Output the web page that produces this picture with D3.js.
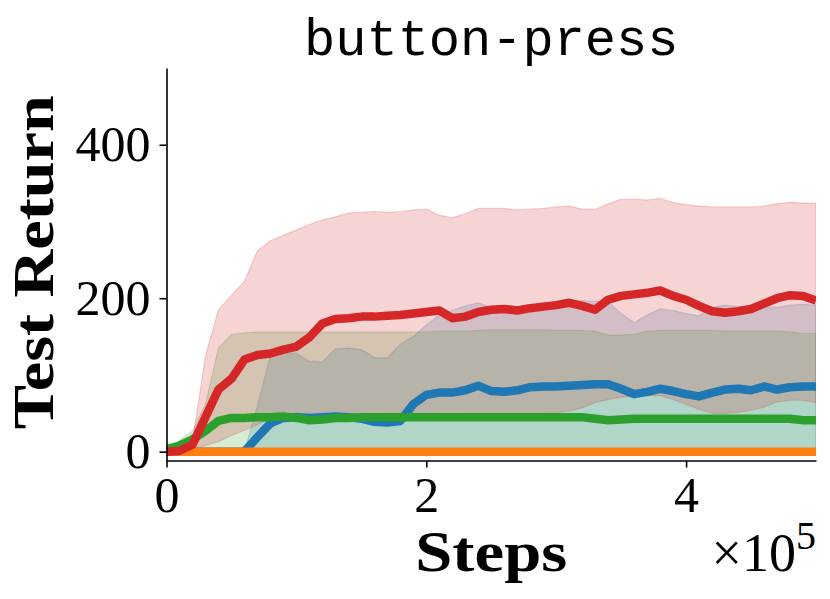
<!DOCTYPE html>
<html>
<head>
<meta charset="utf-8">
<script src="https://cdn.jsdelivr.net/npm/d3@7"></script>
<style>
  body { margin: 0; background: #fff; }
</style>
</head>
<body>
<svg id="chart"></svg>
<script>
// steps, in units of 1e5
const steps = [0, 0.1, 0.2, 0.3, 0.4, 0.5, 0.6, 0.7, 0.8, 0.9, 1.0, 1.1, 1.2, 1.3, 1.4, 1.5, 1.6, 1.7, 1.8, 1.9, 2.0, 2.1, 2.2, 2.3, 2.4, 2.5, 2.6, 2.7, 2.8, 2.9, 3.0, 3.1, 3.2, 3.3, 3.4, 3.5, 3.6, 3.7, 3.8, 3.9, 4.0, 4.1, 4.2, 4.3, 4.4, 4.5, 4.6, 4.7, 4.8, 4.9, 5.0];

const blueMean  = [0, 0, 0, 0, 0, 0, 0, 19, 37, 44, 45, 44, 45, 46, 45, 43, 39, 38, 40, 62, 74, 77, 77, 80, 86, 79, 78, 80, 84, 85, 85, 86, 87, 88, 88, 82, 75, 78, 82, 79, 75, 72, 77, 81, 82, 80, 85, 81, 84, 85, 85];
const blueLower = [0, 0, 0, 0, 0, 0, 0, 0, 0, 0, 0, 0, 0, 0, 0, 0, 0, 0, 0, 0, 0, 0, 0, 0, 0, 0, 0, 0, 0, 0, 0, 0, 0, 0, 0, 0, 0, 0, 0, 0, 0, 0, 0, 0, 0, 0, 0, 0, 0, 0, 0];
const blueUpper = [0, 0, 0, 0, 0, 0, 0, 60, 126, 128, 128, 118, 117, 134, 135, 133, 123, 122, 140, 150, 165, 178, 184, 190, 194, 188, 184, 183, 188, 193, 195, 196, 197, 196, 195, 180, 168, 178, 186, 184, 180, 177, 188, 191, 189, 188, 189, 188, 191, 192, 191];

const orangeMean  = [0, 0, 0, 0, 0, 0, 0, 0, 0, 0, 0, 0, 0, 0, 0, 0, 0, 0, 0, 0, 0, 0, 0, 0, 0, 0, 0, 0, 0, 0, 0, 0, 0, 0, 0, 0, 0, 0, 0, 0, 0, 0, 0, 0, 0, 0, 0, 0, 0, 0, 0];

const greenMean  = [3, 8, 16, 27, 40, 44, 44, 45, 45, 46, 44, 41, 42, 44, 44, 45, 45, 45, 45, 45, 45, 45, 45, 45, 45, 45, 45, 45, 45, 45, 45, 45, 45, 43, 41, 42, 43, 43, 43, 43, 43, 43, 43, 43, 43, 43, 43, 43, 43, 41, 41];
const greenLower = [0, 0, 0, 0, 0, 0, 0, 0, 0, 0, 0, 0, 0, 0, 0, 0, 0, 0, 0, 0, 0, 0, 0, 0, 0, 0, 0, 0, 0, 0, 0, 0, 0, 0, 0, 0, 0, 0, 0, 0, 0, 0, 0, 0, 0, 0, 0, 0, 0, 0, 0];
const greenUpper = [3, 15, 27, 62, 135, 153, 155, 156, 156, 156, 156, 156, 156, 156, 156, 156, 156, 156, 156, 156, 156, 157, 157, 157, 158, 159, 159, 159, 159, 159, 158, 158, 158, 157, 152, 152, 153, 157, 158, 158, 158, 158, 158, 157, 157, 157, 157, 157, 156, 154, 154];

const redMean  = [0, 1, 9, 45, 81, 95, 120, 126, 128, 133, 137, 149, 167, 173, 174, 176, 176, 177, 178, 180, 182, 184, 174, 176, 182, 185, 186, 184, 187, 189, 191, 194, 190, 185, 198, 203, 205, 207, 210, 203, 198, 190, 183, 181, 183, 186, 193, 200, 204, 203, 197];
const redLower = [0, 0, 2, 8, 13, 21, 28, 35, 44, 48, 49, 50, 50, 49, 50, 50, 49, 50, 50, 50, 50, 50, 49, 50, 50, 50, 50, 50, 50, 50, 51, 53, 57, 64, 68, 71, 72, 73, 73, 68, 62, 55, 50, 50, 51, 54, 58, 65, 67, 67, 64];
const redUpper = [0, 3, 14, 125, 185, 204, 222, 262, 275, 282, 289, 296, 302, 306, 311, 312, 313, 312, 313, 315, 316, 308, 305, 310, 317, 317, 317, 315, 316, 317, 319, 320, 316, 316, 323, 329, 329, 328, 330, 325, 322, 320, 319, 319, 319, 319, 320, 323, 325, 324, 324];

const xTicks = [0, 2, 4];
const yTicks = [0, 200, 400];

const series = [
  { color: "#1f77b4", mean: blueMean, lo: blueLower, hi: blueUpper },
  { color: "#ff7f0e", mean: orangeMean, lo: null, hi: null },
  { color: "#2ca02c", mean: greenMean, lo: greenLower, hi: greenUpper },
  { color: "#d62728", mean: redMean, lo: redLower, hi: redUpper },
];

const W = 830, H = 599;
const margin = { top: 68, right: 14, bottom: 138.5, left: 166.5 };
const width = W - margin.left - margin.right;
const height = H - margin.top - margin.bottom;

const svg = d3.select("#chart").attr("width", W).attr("height", H);

const x = d3.scaleLinear().domain([0, 5]).range([0, width]);
const y = d3.scaleLinear().domain([-11.5, 500]).range([height, 0]);

const g = svg.append("g")
  .attr("transform", "translate(" + margin.left + "," + margin.top + ")");

g.append("clipPath").attr("id", "plotclip")
  .append("rect").attr("x", 0).attr("y", 0).attr("width", width).attr("height", height);

const plot = g.append("g").attr("clip-path", "url(#plotclip)");

const area = (lo, hi) => d3.area()
  .x((d, i) => x(steps[i]))
  .y0((d, i) => y(lo[i]))
  .y1((d, i) => y(hi[i]));

const line = d3.line()
  .x((d, i) => x(steps[i]))
  .y((d) => y(d));

// shaded bands first
series.forEach((s) => {
  if (!s.lo) return;
  plot.append("path")
    .datum(s.mean)
    .attr("d", area(s.lo, s.hi))
    .attr("fill", s.color)
    .attr("fill-opacity", 0.2)
    .attr("stroke", s.color)
    .attr("stroke-opacity", 0.2)
    .attr("stroke-width", 1.2);
});

// then mean lines
series.forEach((s) => {
  plot.append("path")
    .datum(s.mean)
    .attr("d", line)
    .attr("fill", "none")
    .attr("stroke", s.color)
    .attr("stroke-width", 8.5)
    .attr("stroke-linejoin", "round");
});

// axes
const xAxis = g.append("g")
  .attr("transform", "translate(0," + height + ")")
  .call(d3.axisBottom(x).tickValues(xTicks).tickSize(7).tickSizeOuter(0).tickPadding(9).tickFormat(d3.format("d")));

const yAxis = g.append("g")
  .call(d3.axisLeft(y).tickValues(yTicks).tickSize(7).tickSizeOuter(0).tickPadding(9).tickFormat(d3.format("d")));

[xAxis, yAxis].forEach((a) => {
  a.select(".domain").attr("stroke", "#000").attr("stroke-width", 1.6);
  a.selectAll(".tick line").attr("stroke", "#000").attr("stroke-width", 1.6);
  a.selectAll(".tick text")
    .attr("fill", "#000")
    .style("font-family", "'Liberation Serif', 'DejaVu Serif', serif")
    .style("font-size", "50px");
});

// title
svg.append("text")
  .attr("x", margin.left + width / 2)
  .attr("y", 55)
  .attr("text-anchor", "middle")
  .style("font-family", "'Liberation Mono', 'DejaVu Sans Mono', monospace")
  .style("font-size", "52px")
  .text("button-press");

// axis labels
svg.append("text")
  .attr("x", margin.left + width / 2)
  .attr("y", 571)
  .attr("text-anchor", "middle")
  .attr("textLength", 152)
  .attr("lengthAdjust", "spacingAndGlyphs")
  .style("font-family", "'Liberation Serif', 'DejaVu Serif', serif")
  .style("font-weight", "bold")
  .style("font-size", "57px")
  .text("Steps");

svg.append("text")
  .attr("transform", "translate(53," + (margin.top + height / 2 - 2) + ") rotate(-90)")
  .attr("text-anchor", "middle")
  .attr("textLength", 334)
  .attr("lengthAdjust", "spacingAndGlyphs")
  .style("font-family", "'Liberation Serif', 'DejaVu Serif', serif")
  .style("font-weight", "bold")
  .style("font-size", "57px")
  .text("Test Return");

// offset text x10^5
const off = svg.append("text")
  .attr("x", 816)
  .attr("y", 571)
  .attr("text-anchor", "end")
  .style("font-family", "'Liberation Serif', 'DejaVu Serif', serif")
  .style("font-size", "54px");
off.append("tspan").text("×10");
off.append("tspan").attr("dy", -22).style("font-size", "40px").text("5");
</script>
</body>
</html>
